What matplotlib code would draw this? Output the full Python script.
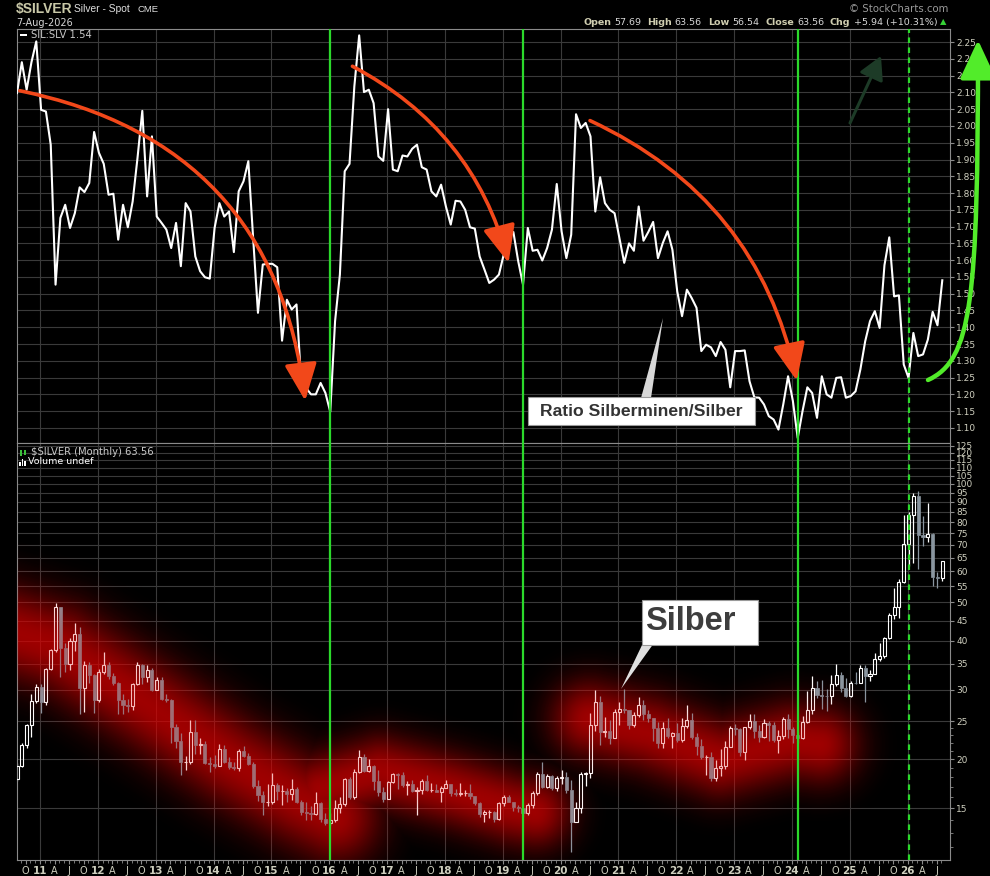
import numpy as np
import matplotlib
matplotlib.use("Agg")
import matplotlib.pyplot as plt
from matplotlib.patches import Rectangle, Polygon, FancyArrowPatch
from matplotlib.path import Path

# ---------------- Daten ----------------
# Monatsindex: 0 = Jan 2011, -5 = Aug 2010, 187 = Aug 2026
months = list(range(-5, 188))

# SIL:SLV Ratio (monatlich)
sil_slv = [
    2.098, 2.19, 2.108, 2.19, 2.252,
    2.048, 2.043, 1.944, 1.527, 1.726, 1.765, 1.696, 1.74, 1.817, 1.803, 1.83, 1.982,
    1.92, 1.887, 1.795, 1.798, 1.661, 1.765, 1.698, 1.775, 1.904, 2.045, 1.79, 1.969,
    1.73, 1.711, 1.691, 1.636, 1.711, 1.582, 1.77, 1.745, 1.611, 1.567, 1.549, 1.545,
    1.696, 1.77, 1.73, 1.745, 1.624, 1.805, 1.835, 1.895, 1.666, 1.443, 1.587, 1.589,
    1.589, 1.579, 1.36, 1.482, 1.453, 1.468, 1.231, 1.219, 1.2, 1.2, 1.234, 1.204,
    1.148, 1.418, 1.557, 1.865, 1.887, 2.118, 2.27, 2.101, 2.108, 2.068, 1.909, 1.896,
    2.05, 1.87, 1.865, 1.912, 1.909, 1.932, 1.944, 1.877, 1.87, 1.805, 1.79, 1.825,
    1.76, 1.706, 1.777, 1.775, 1.75, 1.698, 1.694, 1.611, 1.572, 1.532, 1.542, 1.557,
    1.617, 1.666, 1.684, 1.597, 1.527, 1.696, 1.628, 1.631, 1.599, 1.636, 1.691, 1.827,
    1.686, 1.606, 1.676, 2.035, 1.994, 2.009, 1.969, 1.745, 1.847, 1.77, 1.75, 1.74,
    1.666, 1.592, 1.65, 1.628, 1.76, 1.658, 1.684, 1.714, 1.606, 1.651, 1.686, 1.631,
    1.507, 1.433, 1.512, 1.487, 1.458, 1.329, 1.348, 1.34, 1.314, 1.356, 1.333, 1.221,
    1.329, 1.329, 1.331, 1.239, 1.191, 1.19, 1.17, 1.135, 1.125, 1.095, 1.17, 1.254,
    1.18, 1.07, 1.15, 1.221, 1.204, 1.13, 1.254, 1.2, 1.19, 1.249, 1.251, 1.19,
    1.195, 1.209, 1.274, 1.358, 1.418, 1.448, 1.398, 1.585, 1.668, 1.492, 1.495, 1.289,
    1.249, 1.383, 1.314, 1.319, 1.363, 1.446, 1.406, 1.54,
]

# $SILVER Monatskerzen
first_open = 17.8
close = [
    19.2, 21.8, 24.4, 28.1, 30.6,
    27.9, 33.9, 37.9, 48.6, 38.3, 34.9, 40.0, 41.6, 30.4, 34.6, 32.7, 28.2,
    33.3, 34.6, 32.5, 31.2, 28.3, 27.5, 27.3, 31.0, 34.6, 32.4, 33.6, 30.0,
    31.7, 28.5, 28.3, 24.2, 22.3, 19.7, 19.7, 23.5, 21.7, 21.9, 19.6, 19.5,
    19.2, 21.2, 19.7, 19.1, 19.0, 21.0, 20.4, 19.4, 17.1, 16.2, 15.6, 15.6,
    17.2, 16.6, 16.6, 16.3, 16.8, 15.6, 14.7, 14.6, 14.5, 15.5, 14.1, 13.8,
    14.0, 15.0, 15.4, 17.8, 16.0, 18.6, 20.3, 18.7, 19.2, 17.6, 16.5, 15.9,
    17.5, 18.4, 18.2, 17.2, 17.3, 16.6, 16.7, 17.6, 16.7, 16.7, 16.5, 16.9,
    17.3, 16.4, 16.3, 16.4, 16.4, 16.1, 15.5, 14.5, 14.7, 14.7, 14.1, 15.5,
    16.0, 15.6, 15.1, 15.0, 14.6, 15.3, 16.4, 18.4, 17.0, 18.1, 16.9, 17.9,
    18.0, 16.7, 13.9, 15.0, 18.3, 18.5, 24.4, 28.0, 23.5, 23.6, 22.6, 26.4,
    26.9, 26.7, 24.4, 25.9, 27.5, 26.1, 25.5, 24.0, 22.0, 24.0, 22.9, 23.3,
    22.4, 24.3, 25.1, 22.8, 21.6, 20.3, 20.3, 17.9, 19.0, 19.2, 21.5, 24.0,
    23.9, 20.9, 24.1, 25.0, 23.6, 22.8, 24.7, 24.5, 22.4, 22.9, 25.3, 23.8,
    23.0, 22.7, 24.9, 26.6, 30.4, 29.1, 29.0, 28.9, 31.1, 32.7, 30.3, 28.9,
    31.3, 31.2, 34.1, 32.6, 33.0, 36.0, 36.6, 40.6, 46.6, 48.7, 56.4, 70.2,
    83.5, 93.3, 74.3, 73.5, 74.8, 58.2, 57.69, 63.56,
]
high = [
    19.6, 22.0, 24.6, 29.3, 31.0,
    31.0, 34.0, 38.2, 49.8, 48.6, 39.4, 40.7, 44.3, 43.4, 35.6, 35.4, 33.0,
    33.8, 37.5, 35.4, 33.1, 31.5, 29.3, 28.4, 31.3, 35.4, 34.9, 34.6, 34.1,
    32.4, 32.3, 29.3, 28.5, 24.6, 23.3, 20.4, 25.1, 25.1, 22.6, 22.2, 20.3,
    20.5, 21.9, 21.8, 20.3, 19.7, 21.2, 21.6, 20.7, 19.7, 17.7, 16.6, 17.3,
    18.5, 17.4, 17.2, 16.9, 17.8, 17.0, 15.8, 15.6, 15.2, 16.5, 15.6, 14.6,
    14.6, 15.8, 16.0, 17.9, 18.0, 18.9, 21.1, 20.6, 20.0, 19.3, 18.8, 17.0,
    17.6, 18.5, 18.5, 18.6, 17.6, 17.7, 17.0, 17.8, 18.2, 17.4, 17.3, 17.1,
    17.7, 17.3, 16.8, 17.4, 16.7, 17.3, 16.1, 15.6, 14.9, 14.9, 14.8, 15.6,
    16.2, 16.2, 15.6, 15.3, 15.0, 15.5, 16.6, 18.6, 19.7, 18.3, 18.2, 18.1,
    18.8, 18.6, 17.7, 15.6, 18.6, 18.6, 26.2, 29.9, 28.9, 25.6, 25.1, 26.8,
    27.9, 30.1, 26.7, 26.3, 28.7, 28.3, 26.7, 25.5, 24.9, 24.8, 25.4, 23.4,
    24.7, 25.4, 27.5, 26.2, 23.3, 22.5, 20.5, 20.9, 19.9, 21.2, 22.2, 24.3,
    24.6, 24.0, 24.2, 26.1, 26.1, 24.4, 25.3, 25.0, 24.8, 23.7, 25.6, 26.0,
    24.1, 23.4, 25.8, 29.8, 32.5, 31.6, 31.8, 30.2, 32.7, 34.9, 33.3, 32.1,
    31.6, 33.4, 34.6, 34.6, 33.7, 37.3, 39.5, 40.8, 47.0, 54.5, 57.3, 83.5,
    85.0, 95.0, 96.0, 82.7, 89.2, 75.0, 59.8, 63.56,
]
low = [
    17.6, 19.1, 21.3, 22.8, 27.8,
    26.2, 27.4, 33.6, 37.5, 32.3, 33.3, 33.6, 37.7, 26.1, 26.4, 31.3, 26.2,
    27.9, 32.9, 31.9, 30.9, 26.1, 26.1, 26.3, 26.7, 30.8, 31.0, 31.5, 29.8,
    29.9, 28.3, 27.9, 22.0, 21.4, 18.2, 18.8, 19.5, 20.6, 20.6, 19.4, 18.6,
    19.0, 19.2, 19.6, 18.9, 18.8, 18.7, 20.3, 19.3, 16.9, 15.7, 14.4, 15.2,
    15.4, 15.8, 15.3, 15.6, 15.8, 15.5, 14.4, 14.0, 14.0, 14.4, 13.9, 13.6,
    13.6, 13.9, 14.6, 15.2, 15.9, 15.9, 18.5, 18.6, 18.6, 16.7, 16.1, 15.6,
    15.9, 17.4, 16.8, 17.0, 16.2, 16.5, 14.4, 16.3, 16.6, 16.5, 16.5, 15.6,
    16.9, 16.1, 16.1, 16.1, 16.1, 15.9, 15.3, 14.3, 13.9, 14.2, 13.9, 14.0,
    15.2, 15.6, 14.8, 14.7, 14.3, 14.4, 15.0, 16.2, 16.9, 16.9, 16.7, 16.6,
    17.3, 16.4, 11.6, 14.0, 14.6, 17.1, 17.9, 23.6, 21.7, 22.8, 21.9, 22.6,
    24.4, 26.2, 23.8, 24.2, 25.6, 25.2, 24.8, 22.2, 21.4, 21.4, 22.7, 21.4,
    22.1, 22.1, 24.0, 22.5, 20.5, 20.0, 18.2, 17.6, 17.6, 18.1, 18.9, 21.6,
    23.0, 20.4, 19.9, 23.9, 22.7, 22.1, 22.7, 22.2, 22.1, 20.7, 22.5, 22.7,
    22.0, 22.0, 22.5, 24.7, 26.0, 28.6, 26.8, 26.5, 27.7, 30.7, 29.7, 28.7,
    28.7, 31.0, 31.2, 28.0, 31.6, 32.9, 35.6, 36.2, 40.3, 45.5, 45.6, 56.0,
    62.0, 63.0, 60.7, 69.5, 71.0, 55.0, 54.3, 56.54,
]

year_labels = ['11', '12', '13', '14', '15', '16', '17', '18',
               '19', '20', '21', '22', '23', '24', '25', '26']
quarter_letters = ['A', 'J', 'O']
price_ticks = [15, 20, 25, 30, 35, 40, 45, 50, 55, 60, 65, 70, 75, 80,
               85, 90, 95, 100, 105, 110, 115, 120, 125]
signal_months = [60, 100, 157]
dashed_month = 180

header_parts = [('Open', '57.69'), ('High', '63.56'), ('Low', '56.54'),
                ('Close', '63.56'), ('Chg', '+5.94 (+10.31%)')]

# Glow-Bereiche (Monat, Preis)
glow_paths = [
    [(-8.5, 43.0), (3.9, 38.5), (22.6, 27.3), (39.2, 19.9), (53.7, 15.7), (61.0, 14.2)],
    [(57.9, 16.8), (70.3, 18.7), (84.8, 16.8), (97.3, 15.1), (102.5, 14.7)],
    [(113.9, 25.3), (126.3, 23.3), (140.9, 20.0), (155.4, 22.3), (161.6, 21.8)],
]

# ---------------- Figure ----------------
W, H = 990, 876
fig = plt.figure(figsize=(W / 100, H / 100), dpi=100, facecolor='black')


def fx(x):
    return x / W


def fy(y):
    return 1 - y / H


ax1 = fig.add_axes([fx(17), fy(443), (950 - 17) / W, (443 - 29) / H])
ax2 = fig.add_axes([fx(17), fy(860), (950 - 17) / W, (860 - 443) / H])

GRID = '#3a3a3a'
SPINE = '#8a8a8a'
LBL = '#cfcfbf'
GREEN = '#2bd92b'
DOWN = '#8a96a0'
XOFF = -0.2
XLIM = (-5.0, 188.6)

for ax in (ax1, ax2):
    ax.set_facecolor('black')
    for s in ax.spines.values():
        s.set_color(SPINE)
        s.set_linewidth(0.8)
    ax.tick_params(axis='y', which='both', left=False, labelleft=False,
                   right=True, labelright=True, colors=SPINE,
                   labelcolor=LBL, labelsize=6.5, length=3, pad=1.5)
    ax.set_xlim(*XLIM)
    for k in range(0, 181, 12):
        ax.axvline(k + XOFF, color=GRID, lw=0.8, zorder=0.6)

# --- Oberes Panel: Ratio ---
ratio_ticks = np.round(np.arange(1.10, 2.2501, 0.05), 2)
ax1.set_ylim(1.055, 2.289)
ax1.set_yticks(ratio_ticks)
ax1.set_yticklabels([f'{v:.2f}' for v in ratio_ticks])
for v in ratio_ticks:
    ax1.axhline(v, color=GRID, lw=0.8, zorder=0.6)
ax1.tick_params(axis='x', bottom=False, labelbottom=False)
ax1.plot(months, sil_slv, color='white', lw=1.5, zorder=3)

# --- Unteres Panel: Kerzen ---
m = np.array(months, dtype=float)
c = np.array(close)
o = np.array([first_open] + close[:-1])
h = np.maximum(np.array(high), np.maximum(o, c))
l = np.minimum(np.array(low), np.minimum(o, c))
up = c >= o
blo = np.minimum(o, c)
bhi = np.maximum(o, c)

ax2.set_yscale('log')
for col, sel in (('white', up), (DOWN, ~up)):
    ax2.vlines(m[sel], l[sel], blo[sel], color=col, lw=0.9, zorder=2)
    ax2.vlines(m[sel], bhi[sel], h[sel], color=col, lw=0.9, zorder=2)
ax2.bar(m[up], bhi[up] - blo[up], bottom=blo[up], width=0.64,
        facecolor='none', edgecolor='white', lw=0.8, zorder=3)
ax2.bar(m[~up], bhi[~up] - blo[~up], bottom=blo[~up], width=0.64,
        facecolor=DOWN, edgecolor=DOWN, lw=0.5, zorder=3)

ax2.set_ylim(11.1, 127)
ax2.set_yticks(price_ticks)
ax2.set_yticklabels([str(p) for p in price_ticks])
ax2.set_yticks([12, 13, 14, 16, 17, 18, 19, 21, 22, 23, 24], minor=True)
ax2.yaxis.set_minor_formatter(matplotlib.ticker.NullFormatter())
ax2.tick_params(axis='y', which='minor', length=2)
for p in price_ticks:
    ax2.axhline(p, color=GRID, lw=0.8, zorder=0.6)

# x-Achse
q_pos, q_lab, q_bold = [], [], []
for k in range(-3, 187, 3):
    q_pos.append(k + XOFF)
    if k % 12 == 0:
        q_lab.append(year_labels[k // 12])
        q_bold.append(True)
    else:
        q_lab.append(quarter_letters[(k % 12) // 3 - 1])
        q_bold.append(False)
ax2.set_xticks(q_pos)
ax2.set_xticklabels(q_lab)
ax2.set_xticks([k + XOFF for k in range(-5, 188)], minor=True)
ax2.tick_params(axis='x', which='major', colors=SPINE, labelcolor=LBL,
                length=3, pad=1, labelsize=7)
ax2.tick_params(axis='x', which='minor', colors=SPINE, length=2)
for t, b in zip(ax2.get_xticklabels(), q_bold):
    if b:
        t.set_fontweight('bold')
        t.set_fontsize(7.5)
ax2.set_xlim(*XLIM)

# Signal-Linien
for ax in (ax1, ax2):
    for sm in signal_months:
        ax.axvline(sm, color=GREEN, lw=1.6, zorder=5)
    ax.axvline(dashed_month, color=GREEN, lw=1.6, ls=(0, (2.5, 2)), zorder=5)

# --- roter Glow ---
bb = ax2.get_window_extent()
nx, ny = int(round(bb.width)), int(round(bb.height))
gx, gy = np.meshgrid(bb.x0 + np.arange(nx) + 0.5, bb.y0 + np.arange(ny) + 0.5)
inten = np.zeros((ny, nx))
for path, sig in zip(glow_paths, (30, 24, 26)):
    pts = ax2.transData.transform(np.array(path))
    d = np.full((ny, nx), 1e9)
    for a, b in zip(pts[:-1], pts[1:]):
        ab = b - a
        t = ((gx - a[0]) * ab[0] + (gy - a[1]) * ab[1]) / (ab @ ab)
        t = np.clip(t, 0, 1)
        d = np.minimum(d, np.hypot(gx - a[0] - t * ab[0], gy - a[1] - t * ab[1]))
    inten = np.maximum(inten, np.exp(-0.5 * (d / sig) ** 2))
for alpha_max, z in ((0.62, 1.0), (0.28, 4.0)):
    rgba = np.zeros((ny, nx, 4))
    rgba[..., 0] = 0.86
    rgba[..., 3] = inten * alpha_max
    ax2.imshow(rgba, extent=(0, 1, 0, 1), transform=ax2.transAxes,
               origin='lower', aspect='auto', zorder=z, interpolation='bilinear')
ax2.set_xlim(*XLIM)
ax2.set_ylim(11.1, 127)

# --- Pfeile oben ---
ORANGE = '#f2481a'
arrows = [((-4.4, 2.105), (54.8, 1.181), -0.36),
          ((64.6, 2.178), (97.0, 1.592), -0.22),
          ((113.9, 2.016), (156.8, 1.241), -0.25)]
for p0, p1, rad in arrows:
    ax1.add_patch(FancyArrowPatch(
        p0, p1, connectionstyle=f'arc3,rad={rad}',
        arrowstyle='-|>,head_length=1.15,head_width=0.5', mutation_scale=20,
        color=ORANGE, lw=2.6, shrinkA=0, shrinkB=0, zorder=7))

# dunkelgruener Pfeil
fig.add_artist(FancyArrowPatch(
    (fx(850), fy(123)), (fx(881), fy(56)), transform=fig.transFigure,
    arrowstyle='-|>,head_length=1.0,head_width=0.55', mutation_scale=14,
    color='#1d3b27', lw=2.2, shrinkA=0, shrinkB=0, zorder=6))

# hellgruener Bogen rechts
verts = [(fx(928), fy(380)), (fx(972), fy(360)), (fx(978), fy(300)), (fx(978), fy(40))]
gpath = Path(verts, [Path.MOVETO, Path.CURVE4, Path.CURVE4, Path.CURVE4])
fig.add_artist(FancyArrowPatch(
    path=gpath, transform=fig.transFigure,
    arrowstyle='-|>,head_length=1.4,head_width=0.65', mutation_scale=17,
    color='#52ec2a', lw=3.2, zorder=6))

# --- Textboxen ---
fig.add_artist(Polygon([(fx(641), fy(398)), (fx(651), fy(398)), (fx(663), fy(318))],
                       closed=True, transform=fig.transFigure,
                       facecolor='#d8d8d8', edgecolor='none', zorder=7))
fig.add_artist(Rectangle((fx(528), fy(425)), (755 - 528) / W, 28 / H,
                         transform=fig.transFigure, facecolor='white',
                         edgecolor='#9a9a9a', lw=0.8, zorder=8))
fig.text(fx(641.5), fy(411.5), 'Ratio Silberminen/Silber', fontsize=12.6,
         fontweight='bold', family='Liberation Sans', color='#333333',
         ha='center', va='center', zorder=9)

fig.add_artist(Polygon([(fx(643), fy(643)), (fx(654), fy(643)), (fx(621), fy(689))],
                       closed=True, transform=fig.transFigure,
                       facecolor='#e0e0e0', edgecolor='none', zorder=7))
fig.add_artist(Rectangle((fx(642), fy(645)), (758 - 642) / W, 45 / H,
                         transform=fig.transFigure, facecolor='white',
                         edgecolor='#9a9a9a', lw=0.8, zorder=8))
fig.text(fx(645), fy(622), 'Silber', fontsize=23.5, fontweight='bold',
         family='Liberation Sans', color='#3d3d3d', ha='left', va='center', zorder=9)

# --- Legenden in den Panels ---
fig.add_artist(Rectangle((fx(20), fy(36)), 7 / W, 2.2 / H, transform=fig.transFigure,
                         facecolor='white', edgecolor='none', zorder=8))
fig.text(fx(31), fy(35), 'SIL:SLV 1.54', fontsize=7.2, color='#c8c8c8',
         ha='left', va='center', zorder=9)
fig.add_artist(Rectangle((fx(20), fy(456)), 2 / W, 6 / H, transform=fig.transFigure,
                         facecolor='#3bbf3b', edgecolor='none', zorder=8))
fig.add_artist(Rectangle((fx(23.5), fy(455)), 2 / W, 5 / H, transform=fig.transFigure,
                         facecolor='#3bbf3b', edgecolor='none', zorder=8))
fig.text(fx(31), fy(452), f'$SILVER (Monthly) {close[-1]:.2f}', fontsize=7.2,
         color='#c8c8c8', ha='left', va='center', zorder=9)
for bx, bh in ((19, 4), (21.5, 7), (24, 5)):
    fig.add_artist(Rectangle((fx(bx), fy(466)), 1.8 / W, bh / H, transform=fig.transFigure,
                             facecolor='white', edgecolor='none', zorder=8))
fig.text(fx(28.5), fy(462), 'Volume undef', fontsize=6.8, color='white',
         ha='left', va='center', zorder=9)

# --- Kopfzeile ---
fig.text(fx(16), fy(9), '$SILVER', fontsize=10, fontweight='bold',
         family='Liberation Sans', color='#c9c8a8', ha='left', va='center')
fig.text(fx(74), fy(9.5), 'Silver - Spot', fontsize=7.4, family='Liberation Sans',
         color='#dedede', ha='left', va='center')
fig.text(fx(137), fy(10), 'CME', fontsize=6.8, family='Liberation Sans',
         color='#dedede', ha='left', va='center')
fig.text(fx(16), fy(22.5), '7-Aug-2026', fontsize=7, color='#d6d6d6',
         ha='left', va='center')
fig.text(fx(948), fy(9), '\u00a9 StockCharts.com', fontsize=7.3, color='#9a9a9a',
         ha='right', va='center')

renderer = fig.canvas.get_renderer()
xcur = 583
for i, (lab, val) in enumerate(header_parts):
    t1 = fig.text(fx(xcur), fy(22.5), lab, fontsize=6.8, fontweight='bold',
                  color='#cfcdb0', ha='left', va='center')
    xcur += t1.get_window_extent(renderer).width + 3
    t2 = fig.text(fx(xcur), fy(22.5), val, fontsize=6.8, color='#d8d8d8',
                  ha='left', va='center')
    xcur += t2.get_window_extent(renderer).width + 6
fig.text(fx(xcur - 3), fy(22), '\u25b2', fontsize=6, color='#36d236',
         ha='left', va='center')

fig.savefig('out.png', dpi=100, facecolor='black')
